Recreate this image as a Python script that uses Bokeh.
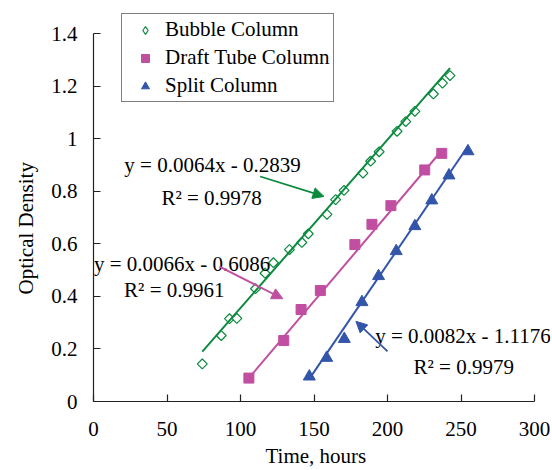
from bokeh.plotting import figure
from bokeh.models import (Legend, LegendItem, Label, Arrow, NormalHead, FixedTicker,
                          Range1d, Title)
from bokeh.embed import file_html
from bokeh.resources import INLINE
import math

# ---- data ----
bubble_x = [74.0, 86.9, 92.5, 97.5, 110.2, 116.7, 122.4, 133.3, 141.7, 146.1, 158.8,
            164.7, 170.4, 183.3, 188.5, 194.3, 206.5, 212.4, 218.6, 231.2, 237.4, 242.5]
bubble_y = [0.143, 0.251, 0.315, 0.316, 0.429, 0.488, 0.528, 0.578, 0.605, 0.638, 0.712,
            0.768, 0.803, 0.869, 0.914, 0.950, 1.028, 1.065, 1.104, 1.170, 1.211, 1.240]
draft_x = [105.7, 129.4, 141.2, 154.3, 177.8, 189.4, 202.3, 225.3, 236.9]
draft_y = [0.089, 0.232, 0.350, 0.422, 0.597, 0.674, 0.745, 0.881, 0.944]
split_x = [146.8, 158.6, 170.6, 182.6, 193.9, 205.9, 218.6, 230.1, 241.8, 254.7]
split_y = [0.095, 0.166, 0.238, 0.378, 0.477, 0.572, 0.667, 0.765, 0.860, 0.952]

series_names = ["Bubble Column", "Draft Tube Column", "Split Column"]
slopes = [0.0064, 0.0066, 0.0082]
intercepts = [-0.2839, -0.6086, -1.1176]
eq_texts = ["y = 0.0064x - 0.2839", "y = 0.0066x - 0.6086", "y = 0.0082x - 1.1176"]
r2_texts = ["R\u00b2 = 0.9978", "R\u00b2 = 0.9961", "R\u00b2 = 0.9979"]

x_ticks = [0, 50, 100, 150, 200, 250, 300]
x_tick_labels = ["0", "50", "100", "150", "200", "250", "300"]
y_ticks = [0, 0.2, 0.4, 0.6, 0.8, 1.0, 1.2, 1.4]
y_tick_labels = ["0", "0.2", "0.4", "0.6", "0.8", "1", "1.2", "1.4"]
x_axis_max = 300
y_axis_max = 1.4

GREEN = "#0B8A3E"
MAGENTA = "#C04FA2"
BLUE = "#3355AA"
FONT = "Liberation Serif"
FS = "21px"

# frame extends a little beyond the axes so that legend / labels are not clipped
p = figure(width=552, height=470,
           x_range=Range1d(0, x_axis_max + 10.86), y_range=Range1d(0, y_axis_max + 0.0875),
           output_backend="svg", toolbar_location=None,
           min_border_left=92, min_border_right=2, min_border_top=10, min_border_bottom=69)
p.outline_line_color = None
p.grid.visible = False
p.background_fill_color = "white"

for ax in (p.xaxis[0], p.yaxis[0]):
    ax.axis_line_color = "#222222"
    ax.axis_line_width = 1.2
    ax.major_tick_line_color = "#222222"
    ax.major_tick_line_width = 1.2
    ax.major_tick_in = 7
    ax.major_tick_out = 0
    ax.minor_tick_line_color = None
    ax.major_label_text_font = FONT
    ax.major_label_text_font_size = FS
    ax.major_label_text_color = "black"

p.xaxis.bounds = (0, x_axis_max)
p.yaxis.bounds = (0, y_axis_max)
p.xaxis.ticker = FixedTicker(ticks=x_ticks)
p.yaxis.ticker = FixedTicker(ticks=y_ticks)
p.xaxis.major_label_overrides = {t: l for t, l in zip(x_ticks, x_tick_labels)}
p.yaxis.major_label_overrides = {t: l for t, l in zip(y_ticks, y_tick_labels)}
p.xaxis.major_label_standoff = 20
p.yaxis.major_label_standoff = 16

# axis titles as side titles so they can be positioned like the reference
p.add_layout(Title(text="Time, hours", align="left", offset=172, standoff=6,
                   text_font=FONT, text_font_size=FS, text_font_style="normal",
                   text_color="black"), "below")
p.add_layout(Title(text="Optical Density", align="left", offset=107, standoff=22,
                   text_font=FONT, text_font_size=FS, text_font_style="normal",
                   text_color="black"), "left")

rb = p.scatter(bubble_x, bubble_y, marker="square", angle=math.pi / 4, size=7,
               fill_color="white", line_color=GREEN, line_width=1.2)
rd = p.scatter(draft_x, draft_y, marker="square", size=10, fill_color=MAGENTA,
               line_color=MAGENTA)
rs = p.scatter(split_x, split_y, marker="triangle", size=12, fill_color=BLUE,
               line_color=BLUE)
# legend proxy for the open diamond (legend glyphs ignore marker angle); NaN = not drawn
rb_key = p.scatter(x=[math.nan], y=[math.nan], marker="diamond", size=11,
                   fill_color="white", line_color=GREEN, line_width=1.2)

colors = [GREEN, MAGENTA, BLUE]
xs_all = [bubble_x, draft_x, split_x]
for xs, m, b, c in zip(xs_all, slopes, intercepts, colors):
    x0, x1 = min(xs), max(xs)
    p.line([x0, x1], [m * x0 + b, m * x1 + b], line_color=c, line_width=2)

# annotations (equation labels and arrows)
label_pos = [((21.0, 0.898), (46.2, 0.773)),
             ((0.3, 0.525), (20.8, 0.425)),
             ((191.6, 0.248), (217.7, 0.130))]
for (eqp, r2p), eq, r2t in zip(label_pos, eq_texts, r2_texts):
    p.add_layout(Label(x=eqp[0], y=eqp[1], text=eq, text_font=FONT, text_font_size=FS,
                       text_color="black", text_baseline="alphabetic"))
    p.add_layout(Label(x=r2p[0], y=r2p[1], text=r2t, text_font=FONT, text_font_size=FS,
                       text_color="black", text_baseline="alphabetic"))

arrows = [((113.4, 0.856), (156.8, 0.780), GREEN),
          ((85.7, 0.513), (128.8, 0.391), MAGENTA),
          ((200.0, 0.191), (178.5, 0.305), BLUE)]
for (s, e, c) in arrows:
    p.add_layout(Arrow(end=NormalHead(size=11, fill_color=c, line_color=c),
                       x_start=s[0], y_start=s[1], x_end=e[0], y_end=e[1],
                       line_color=c, line_width=1.8))

legend = Legend(items=[LegendItem(label=n, renderers=[r])
                       for n, r in zip(series_names, [rb_key, rd, rs])],
                location=(28, 299))
legend.label_text_font = FONT
legend.label_text_font_size = FS
legend.label_text_color = "black"
legend.border_line_color = "black"
legend.border_line_width = 1.2
legend.background_fill_color = "white"
legend.background_fill_alpha = 1.0
legend.padding = 3
legend.margin = 0
legend.spacing = 3
legend.label_height = 24
legend.glyph_height = 20
legend.glyph_width = 40
legend.label_standoff = -6
p.add_layout(legend, "center")

open("out.html", "w").write(file_html(p, INLINE))
